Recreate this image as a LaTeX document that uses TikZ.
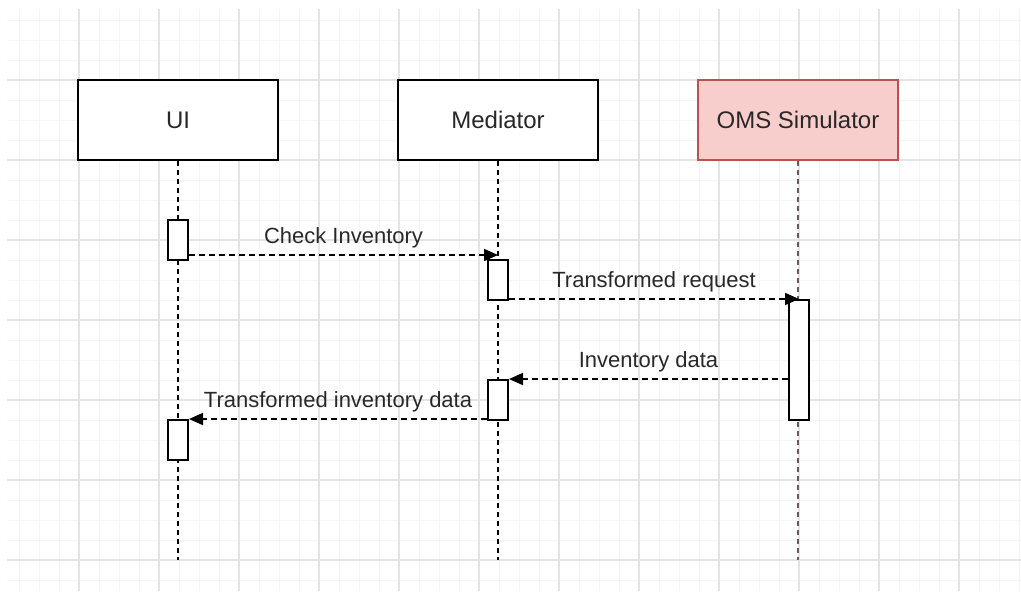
\documentclass[tikz,border=0pt]{standalone}
\usepackage{fontspec}
\setmainfont{Liberation Sans}
\usepackage{tikz}
\usetikzlibrary{positioning,arrows.meta}
\definecolor{gridmajor}{RGB}{228,228,228}
\definecolor{gridminor}{RGB}{245,245,245}
\definecolor{omsfill}{RGB}{248,206,204}
\definecolor{omsdraw}{RGB}{184,84,80}
\definecolor{omsline}{RGB}{105,90,90}
\definecolor{textdark}{RGB}{40,40,40}

\begin{document}
\begin{tikzpicture}[
            x=0.5pt, y=-0.5pt,
            node distance=59pt,
            head/.style={rectangle, draw=black, fill=white, line width=1pt,
                        minimum width=100pt, minimum height=40pt, inner sep=0pt,
                        text=textdark, font=\fontsize{12}{14}\selectfont},
            act/.style={rectangle, draw=black, fill=white, line width=1pt,
                        minimum width=10pt, minimum height=20pt, inner sep=0pt},
            lifeline/.style={line width=0.9pt, dash pattern=on 2.5pt off 2pt},
            msg/.style={line width=0.9pt, dash pattern=on 3pt off 2pt,
                        -{Triangle[length=7pt, width=6pt]}},
            lbl/.style={above=-0.5pt, text=textdark, font=\fontsize{11}{13}\selectfont}
        ]
            \useasboundingbox (0,0) rectangle (1021,591);
            \foreach \gx in {19,39,...,1019}
                \draw[gridminor, line width=0.5pt] (\gx,9) -- (\gx,591);
            \foreach \gy in {20,40,...,580}
                \draw[gridminor, line width=0.5pt] (7,\gy) -- (1021,\gy);
            \foreach \gx in {79,159,...,959}
                \draw[gridmajor, line width=0.6pt] (\gx,9) -- (\gx,591);
            \foreach \gy in {80,160,...,560}
                \draw[gridmajor, line width=0.6pt] (7,\gy) -- (1021,\gy);

            \node[head] (ui) at (178,120) {UI};
            \node[head, right=of ui] (mediator) {Mediator};
            \node[head, fill=omsfill, draw=omsdraw, right=49pt of mediator] (oms) {OMS Simulator};

            \coordinate (uiend) at (ui.south |- 0,560);
            \coordinate (medend) at (mediator.south |- 0,560);
            \coordinate (omsend) at (oms.south |- 0,560);
            \draw[lifeline] (ui.south) -- (uiend);
            \draw[lifeline] (mediator.south) -- (medend);
            \draw[lifeline, omsline] (oms.south) -- (omsend);

            \node[act] (ui1) at (178,240) {};
            \node[act] (med1) at (ui1 -| mediator) [yshift=-20pt] {};
            \node[act, minimum height=60pt] (oms1) at (799,360) {};
            \node[act] (med2) at (498,400) {};
            \node[act] (ui2) at (178,440) {};

            \draw[msg] ([yshift=3pt]ui1.south east) coordinate (chk) -- (chk -| med1.north)
                node[lbl, midway] {Check Inventory};
            \draw[msg] (oms1.north -| med1.east) -- (oms1.north)
                node[lbl, midway] {Transformed request};
            \draw[msg] (med2.north east -| oms1.west) -- (med2.north east)
                node[lbl, midway] {Inventory data};
            \draw[msg] (ui2.north -| med2.west) -- (ui2.north east)
                node[lbl, midway] {Transformed inventory data};
        \end{tikzpicture}
\end{document}
